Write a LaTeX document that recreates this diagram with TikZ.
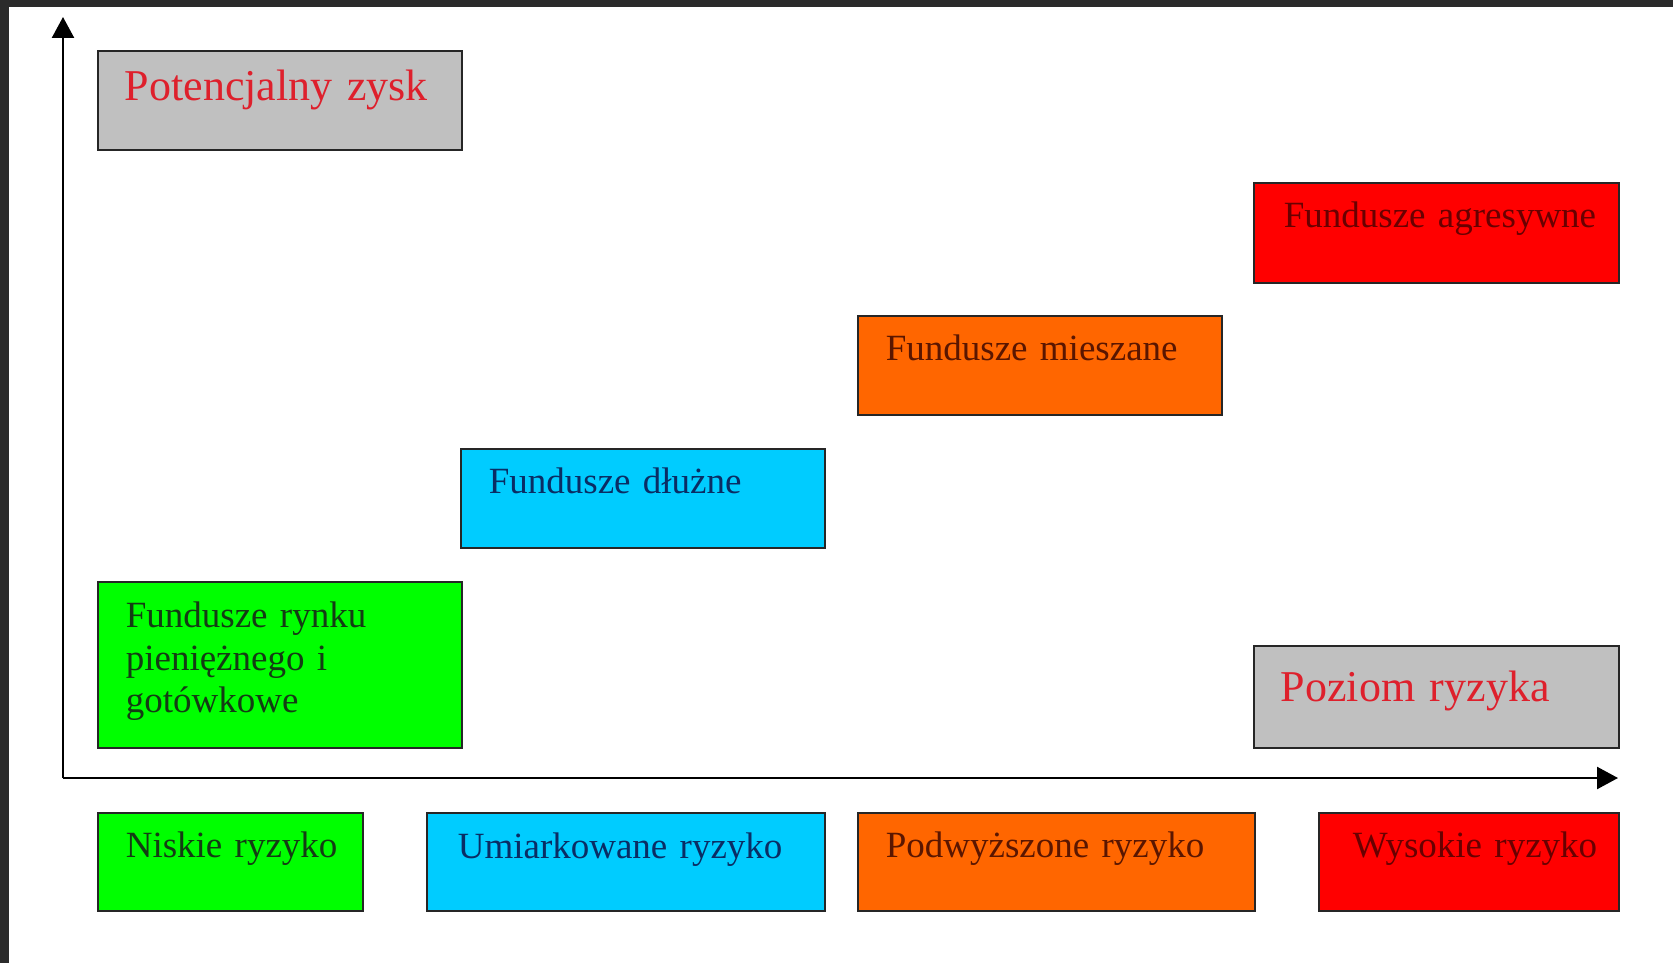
\documentclass[tikz,border=0pt]{standalone}
\usepackage{fontspec}
\setmainfont{Liberation Serif}
\usepackage{xcolor}
\usepackage{tikz}
\usetikzlibrary{arrows.meta}

\definecolor{framedark}{RGB}{43,43,43}
\definecolor{boxgray}{RGB}{192,192,192}
\definecolor{titlered}{RGB}{222,32,44}
\definecolor{fgreen}{RGB}{0,255,0}
\definecolor{fcyan}{RGB}{0,204,255}
\definecolor{forange}{RGB}{255,102,0}
\definecolor{fred}{RGB}{255,0,0}
\definecolor{tgreen}{RGB}{20,60,20}
\definecolor{tcyan}{RGB}{10,45,100}
\definecolor{torange}{RGB}{90,22,0}
\definecolor{tred}{RGB}{105,0,0}

\tikzset{
  fundbox/.style={draw=black!85, line width=1.6pt, anchor=north west,
    inner sep=0pt, align=left, font=\fontsize{37}{42.5}\selectfont},
  lpad/.style={execute at begin node={\leftskip=#1\relax}},
  titlebox/.style={fundbox, fill=boxgray, text=titlered,
    font=\fontsize{44}{50}\selectfont},
  axis/.style={line width=2.4pt, -{Triangle[length=21pt,width=22pt]}}
}

\begin{document}
\begin{tikzpicture}[x=1pt,y=-1pt]
\useasboundingbox (0,0) rectangle (1673,963);
\fill[white] (0,0) rectangle (1673,963);
\fill[framedark] (0,0) rectangle (1673,7);
\fill[framedark] (0,0) rectangle (9,963);

%% axes
\coordinate (origin) at (63,778);
\coordinate (ytop) at (63,17);
\coordinate (xend) at (1618,778);
\draw[axis] (origin) -- (ytop);
\draw[axis] (origin) -- (xend);

%% axis titles
\node[titlebox, lpad=27pt, text width=364pt, text height=50pt, text depth=49pt] (zysk) at (97,50) {Potencjalny zysk};
\node[titlebox, lpad=27pt, text width=365pt, text height=56pt, text depth=46pt] (poziom) at (1253,645) {Poziom ryzyka};

%% funds
\node[fundbox, fill=fgreen, text=tgreen, lpad=28pt, text width=364pt, text height=46pt, text depth=120pt] (rynek) at (97,581) {Fundusze rynku\\pieniężnego i\\gotówkowe};
\node[fundbox, fill=fcyan, text=tcyan, lpad=28pt, text width=364pt, text height=45pt, text depth=54pt] (dluzne) at (460,448) {Fundusze dłużne};
\node[fundbox, fill=forange, text=torange, lpad=28pt, text width=364pt, text height=45pt, text depth=54pt] (mieszane) at (857,315) {Fundusze mieszane};
\node[fundbox, fill=fred, text=tred, lpad=30pt, text width=365pt, text height=45pt, text depth=55pt] (agresywne) at (1253,182) {Fundusze agresywne};

%% risk levels
\node[fundbox, fill=fgreen, text=tgreen, lpad=28pt, text width=265pt, text height=45pt, text depth=53pt] (niskie) at (97,812) {Niskie ryzyko};
\node[fundbox, fill=fcyan, text=tcyan, lpad=31pt, text width=398pt, text height=46pt, text depth=52pt] (umiarkowane) at (426,812) {Umiarkowane ryzyko};
\node[fundbox, fill=forange, text=torange, lpad=28pt, text width=397pt, text height=45pt, text depth=53pt] (podwyzszone) at (857,812) {Podwyższone ryzyko};
\node[fundbox, fill=fred, text=tred, lpad=34pt, text width=300pt, text height=45pt, text depth=53pt] (wysokie) at (1318,812) {Wysokie ryzyko};
\end{tikzpicture}
\end{document}
